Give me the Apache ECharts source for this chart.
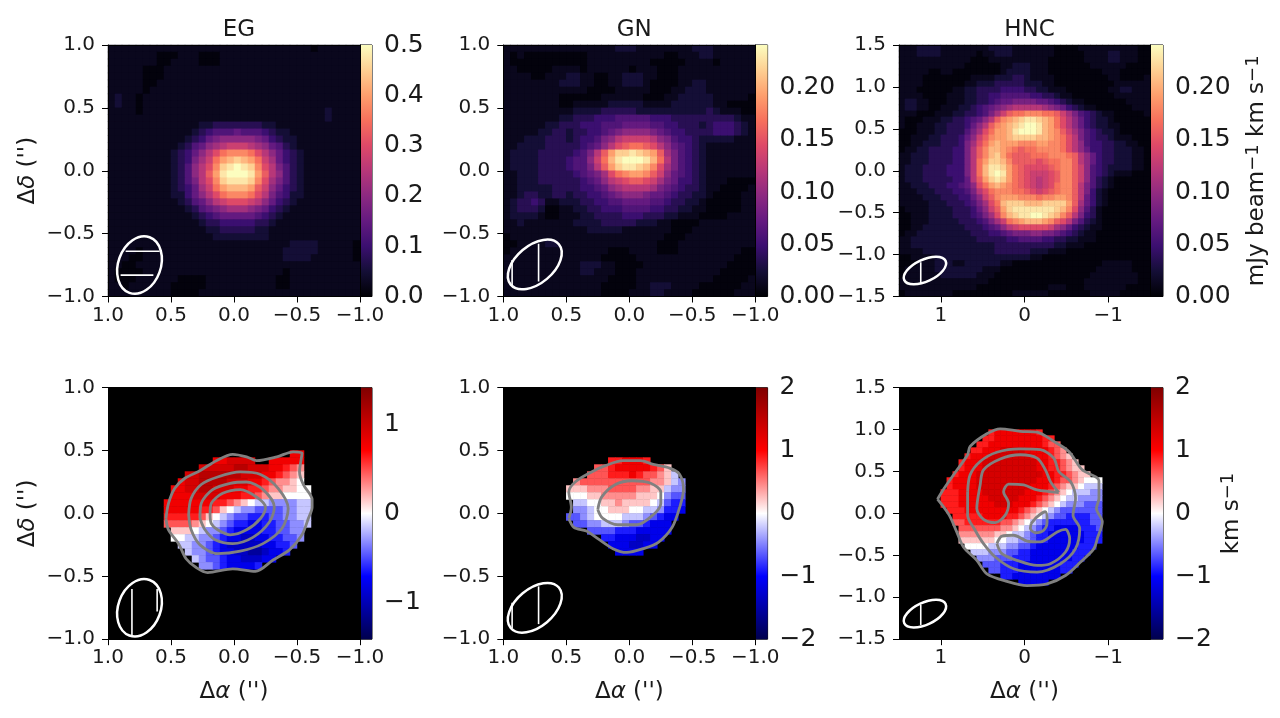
<!DOCTYPE html>
<html>
<head>
<meta charset="utf-8">
<script src="https://cdn.jsdelivr.net/npm/echarts@6/dist/echarts.min.js"></script>
<style>html,body{margin:0;background:#fff}#chart{width:1280px;height:718px}</style>
</head>
<body>
<div id="chart"></div>
<script>
const titles = ['EG', 'GN', 'HNC'];
const magma = ['#000004','#140e36','#3b0f70','#641a80','#8c2981','#b73779','#de4968','#f7705c','#fe9f6d','#fecf92','#fcfdbf'];
const seismic = ['#00004d','#0000ff','#ffffff','#ff0000','#800000'];

// moment maps, one char per cell, 0-9a-k = 0..20 twentieths of the colour range
const egMap = [
'111111111111111111111111111110111111',
'111111100011100011111111111111111111',
'111111100111100011111111111111111111',
'111110001111111111111111111111111111',
'111110001111111111111111111111111111',
'111110011111111111111111111111111111',
'111110111111111111111111111111111111',
'121101111111111111111111111111111111',
'121101111111111111111111111111111111',
'111101111111111111111111111111121111',
'111111111111111111111111111111121111',
'111111111111122333333322111111111111',
'111111111111234555655543221111111111',
'111111111112346788888764322111111111',
'1111111111235689abbba986532111111111',
'11111111123468acefffeca8643211111111',
'11111111123479beghihgeb9643211111111',
'1111111112358acfijkjifca753211111111',
'1111111112358adgjkkkjgda853211111111',
'1111111112357acfijjjifc9753211111111',
'11111111123469beghhhgdb8643211111111',
'11111111122468acefffeca7542211111111',
'111111111123568abcccba86432111111111',
'111111111112356789998764321111111111',
'111111111111234566666543211111111111',
'111111111111123344444332111111111111',
'111111111111112233333221111111111111',
'111111111111111222222221111111111111',
'111111111111111111111111112222111110',
'111101111111111111111111122222111110',
'111001111111111111111111122221111110',
'110011111111111111111111111111111111',
'100001111111111111111111101111111111',
'100011111100001111111111001111111111',
'110111111000001111111111001111111111',
'111111111000011111111111111111111111'];
const gnMap = [
'111111111111111122211111111222111111',
'101000000000111111111110011122111111',
'100000000000111111111000001111011111',
'110000011110111111011100011111111111',
'111100111221100112221100011111111111',
'111111112221100112221000011221111111',
'111111111111000011111000112221111111',
'111111110000001111110001122222111110',
'111111110011111222221111222222110000',
'111111111122223333322222222223211100',
'111111112233344455555444333333333211',
'111111223334445556666554433323444321',
'111112233233445678888765443333444321',
'1112223332344578abbbba87544322222111',
'112222333334568acdeedca8654321111111',
'1222233333457adgiijihgd9754321111111',
'1222233334558behjkkkjhea754321111111',
'1222233334557adgijjihfc9754321111111',
'112223333345679cefggfdb8654321111111',
'112223333334568abcddcb97644321110000',
'11222223333445689aaaa976543321100001',
'112332233233445678887665433221000011',
'123343112223344556666554332210000011',
'123332001122334445555443322110000011',
'122221001112233334443332211100001111',
'112111111122223333322211000011111111',
'111111111111222221111111000111111111',
'011111111111111111111110001111111111',
'001111221111111111111100011111111111',
'011111111111111000111100011111111100',
'111111111111110000011111111111111000',
'111111111112221100001111111111110000',
'111111111112211100011111111111100000',
'111111111111111000011111111111000001',
'111111111111110000011222111100000011',
'111111111111110000111221111000000111'];
const hncMap = [
'111222211111111222211111110000111111111100',
'111222211111101122211111110000011112211100',
'111111111111000111111111100000011112211100',
'111111111110000001122211100000001111110000',
'111110011000000001222211100000000011100000',
'111100000000111122233211110000000001100001',
'111100000001122233333222110000000000111111',
'111000000112233334444332211100000001122111',
'111100001112233445555544332110000000111111',
'122110001112233456677776654321100000001111',
'1221100111223456789aaaaa987643211000000111',
'11100011122334579bdeefffeedb975432110000011'.slice(0,42),
'100011122334568adfghijjihgeca8643221000000',
'10011122333468adfghijkkjhgeca8643221100000',
'00011122333579cegghjkkkjhgfdb9754322100000',
'0011122333468bdfgghiiiihhgfeca754332111000',
'0011222333479ceghgggfffggffeca854433221100',
'011223333447adfhhgfedeeffffeca864433222110',
'112223333447adfhigedddeeefffeda86433222110',
'112223333447aegiihfddddcdeeffda86433222110',
'122233334447aehjjigedccccdeffdb85432222110',
'122233334447aehjkjgedcbbbcdffdb85432111000',
'122233333446adgijigedcbabcdffdb85321000000',
'1122233344568ceghgfedcbabceffda75321000000',
'1112223334457acefffeedcbcdeffda74210000000',
'11112223334468bdfgggfffeffggfda64210000000',
'111112223334579cehiiihhhiiiigd964210000000',
'011112222333468bdgijjjjjjjihfc853100000000',
'0011122223334579cfhijjkkjihfda743100000000',
'00111222223334579befghhhgfdca7532100000000',
'00112222222333456 8abcccccb9864321100000000'.replace(' ','').slice(0,42),
'011222222222333445677788776543211000000000',
'112222222222233333445555443322111000000000',
'112222222222222233333333332211100000000000',
'111122222222222233333322211100000000000000',
'001111222222222222222211000000000000000000',
'000111222112222221100000000000000011111000',
'011111222222221110000000000000000111111000',
'011111122222211100000000000000001111111100',
'111111111111111000000000000000011111111100',
'111111111111100000000000011100011111110000',
'011111111000000000011111100000001111100000'];

// velocity maps: [row, first column, levels]. 0-9 = 0..+9 ninths of vmax, a-i = -1..-9 ninths, '.' = masked
const egVel = [
[9,26,'55'],[10,15,'556666..55555'],[11,13,'666667766655432'],[12,11,'66777777666554321'],
[13,10,'566777766655432210'],[14,9,'55667766655443221100'],[15,9,'55566665554432110000'],
[16,8,'5555555443210aabbbbaa'],[17,8,'5555544310abbccccbbaa'],[18,8,'44444310abccdddccbbaa'],
[19,8,'3333210abcddeeddccbba'],[20,9,'1110abbcdeeeeddccbb'],[21,9,'00aabbcdeeffeeddccb'],
[22,10,'aabbcdefffffeeddc'],[23,11,'abbcdeeffggfeed'],[24,12,'abccdeefffee'],[25,13,'bbcdeeeed']];
const gnVel = [
[10,15,'445554'],[11,13,'33455555431'],[12,12,'333444543321a'],[13,10,'23333333333221ab'],
[14,9,'11122233332211abb'],[15,9,'00011222221110bcc'],[16,10,'aa0011211110acdd'],[17,10,'bba0011100aabdde'],
[18,9,'ccba0000aaabcdee'],[19,10,'ccbbaaabccdeee'],[20,12,'ccccdddeeeee'],[21,14,'ddeeeffee'],
[22,15,'eeeffee'],[23,16,'eeee']];
const hncVel = [
[7,15,'455555554'],[8,14,'445555555544'],[9,13,'44555555555433'],
[10,12,'4455566665555432'],[11,11,'455566666665554321'],[12,10,'45556666666665544321'],
[13,10,'455566666666655443211'],[14,9,'45556666666666655443211'],[15,8,'45555666666666655543321000'],
[16,8,'45555666666666555432110aaa'],[17,7,'4445555666666655543210aaabb'],[18,7,'444555556666655543210aabbbb'],
[19,7,'44455555566655543210abbbccc'],[20,8,'44455555555543210abccccccc'],[21,9,'444445555443210abccddddcc'],
[22,9,'3344444433210abcdddddddcc'],[23,10,'33333332210abcddeeeedddc'],[24,10,'222222110aabcddeeeeeeddd'],
[25,10,'11111100aabbcddeeeeeeddd'],[26,11,'0000aaabbccdeeeeeeeddd'],[27,12,'aaabbbccddeeeeeeeddd'],
[28,13,'bbbcccdddeeeeeeedd'],[29,14,'cccdddeeeeeeeddd'],[30,15,'ccdddeeeeeeedd'],[31,17,'ddeeeeeeee'],[32,20,'eeeee']];

// contours in arcsec
const egContours = [
[[0.54,-0.04],[0.52,0.08],[0.47,0.20],[0.39,0.28],[0.27,0.34],[0.14,0.42],[0.01,0.47],[-0.10,0.45],[-0.18,0.42],[-0.34,0.45],[-0.47,0.49],[-0.54,0.48],[-0.52,0.33],[-0.55,0.23],[-0.62,0.11],[-0.62,0.05],[-0.59,-0.04],[-0.54,-0.17],[-0.44,-0.29],[-0.31,-0.37],[-0.17,-0.46],[0.01,-0.44],[0.21,-0.47],[0.30,-0.43],[0.38,-0.36],[0.44,-0.24],[0.52,-0.13],[0.54,-0.04]],
[[0.36,-0.01],[0.34,0.12],[0.26,0.23],[0.13,0.29],[-0.05,0.33],[-0.21,0.31],[-0.35,0.20],[-0.43,0.04],[-0.38,-0.12],[-0.23,-0.24],[-0.05,-0.30],[0.13,-0.32],[0.27,-0.25],[0.34,-0.13],[0.36,-0.01]],
[[0.27,-0.04],[0.26,0.08],[0.17,0.19],[0.03,0.24],[-0.10,0.25],[-0.23,0.19],[-0.32,0.05],[-0.28,-0.07],[-0.15,-0.19],[0.01,-0.24],[0.15,-0.21],[0.23,-0.13],[0.27,-0.04]],
[[0.19,-0.01],[0.18,0.08],[0.09,0.16],[-0.05,0.19],[-0.18,0.13],[-0.25,0.05],[-0.21,-0.04],[-0.10,-0.13],[0.03,-0.17],[0.13,-0.13],[0.18,-0.08],[0.19,-0.01]]];
const gnContours = [
[[0.48,-0.04],[0.46,0.05],[0.48,0.17],[0.43,0.25],[0.30,0.33],[0.19,0.38],[0.05,0.42],[-0.09,0.42],[-0.19,0.39],[-0.32,0.36],[-0.40,0.31],[-0.43,0.19],[-0.40,0.05],[-0.34,-0.11],[-0.23,-0.23],[-0.11,-0.28],[0.02,-0.31],[0.13,-0.28],[0.25,-0.20],[0.34,-0.14],[0.44,-0.11],[0.48,-0.04]],
[[0.25,0.03],[0.22,0.13],[0.11,0.23],[-0.02,0.26],[-0.17,0.24],[-0.25,0.17],[-0.25,0.08],[-0.19,-0.01],[-0.06,-0.09],[0.09,-0.09],[0.21,-0.04],[0.25,0.03]]];
const hncContours = [
[[1.04,0.17],[0.96,0.30],[0.82,0.50],[0.68,0.70],[0.65,0.80],[0.45,0.95],[0.29,1.01],[0.05,0.98],[-0.15,0.97],[-0.35,0.86],[-0.53,0.74],[-0.69,0.52],[-0.89,0.39],[-0.89,0.18],[-0.86,0.06],[-0.93,-0.10],[-0.87,-0.30],[-0.83,-0.42],[-0.67,-0.58],[-0.49,-0.74],[-0.27,-0.84],[-0.03,-0.86],[0.21,-0.81],[0.45,-0.72],[0.57,-0.56],[0.73,-0.40],[0.81,-0.22],[0.90,-0.02],[1.04,0.17]],
[[0.68,0.26],[0.65,0.46],[0.53,0.62],[0.33,0.73],[0.05,0.77],[-0.19,0.76],[-0.35,0.66],[-0.41,0.50],[-0.55,0.38],[-0.61,0.18],[-0.58,-0.02],[-0.66,-0.18],[-0.61,-0.42],[-0.43,-0.60],[-0.15,-0.70],[0.13,-0.66],[0.35,-0.52],[0.49,-0.36],[0.59,-0.20],[0.68,-0.02],[0.68,0.26]],
[[-0.41,0.25],[-0.31,0.38],[-0.25,0.52],[-0.15,0.66],[0.05,0.70],[0.29,0.65],[0.49,0.52],[0.53,0.34],[0.57,0.06],[0.49,-0.07],[0.35,-0.11],[0.23,-0.02],[0.19,0.12],[0.25,0.26],[0.19,0.35],[0.01,0.34],[-0.15,0.28],[-0.41,0.25]],
[[-0.08,-0.12],[-0.15,-0.04],[-0.25,0.02],[-0.27,-0.10],[-0.23,-0.20],[-0.13,-0.23],[-0.07,-0.18],[-0.08,-0.12]],
[[0.33,-0.36],[0.27,-0.27],[0.13,-0.26],[-0.03,-0.33],[-0.19,-0.34],[-0.39,-0.22],[-0.49,-0.19],[-0.54,-0.30],[-0.49,-0.46],[-0.31,-0.60],[-0.15,-0.62],[0.09,-0.56],[0.27,-0.48],[0.33,-0.36]]];

// beams: cx, cy, major radius, minor radius, tilt in degrees clockwise from up
const beams = [[0.75,-0.75,0.235,0.169,20],[0.75,-0.745,0.25,0.15,50],[1.19,-1.19,0.272,0.131,65],
               [0.75,-0.75,0.235,0.169,20],[0.75,-0.75,0.25,0.15,50],[1.19,-1.195,0.272,0.131,65]];
const beamLines = [
[[[0.86,-0.64],[0.59,-0.64]],[[0.90,-0.83],[0.64,-0.83]]],
[[[0.72,-0.58],[0.72,-0.88]],[[0.93,-0.71],[0.93,-0.91]]],
[[[1.24,-1.09],[1.24,-1.34]]],
[[[0.81,-0.60],[0.81,-0.97]],[[0.61,-0.60],[0.61,-0.78]]],
[[[0.72,-0.58],[0.72,-0.88]],[[0.93,-0.71],[0.93,-0.91]]],
[[[1.24,-1.09],[1.24,-1.33]]]];

const xTicks = [[-1,-0.5,0,0.5,1],[-1,-0.5,0,0.5,1],[-1,0,1]];
const yTicks = [[-1,-0.5,0,0.5,1],[-1,-0.5,0,0.5,1],[-1.5,-1,-0.5,0,0.5,1,1.5]];
const lims = [1, 1, 1.5];
const topMax = [0.5, 0.241, 0.241];
const topBarTicks = [[0,0.1,0.2,0.3,0.4,0.5],[0,0.05,0.1,0.15,0.2],[0,0.05,0.1,0.15,0.2]];
const botMax = [1.41, 2, 2];
const botBarTicks = [[-1,0,1],[-2,-1,0,1,2],[-2,-1,0,1,2]];

const FONT = '"DejaVu Sans"';
const INK = '#1a1a1a';
const colLeft = [108, 503.3, 899];
const rowTop = [45, 387.7];
const imgW = [252, 252, 251], imgH = 251.5, barW = [12, 12.3, 13];

const fmt = (v, d) => v.toFixed(d).replace('-', '\u2212');
const nameStyle = {
    fontFamily: FONT, fontSize: 23, color: INK,
    rich: {
        i: { fontFamily: FONT, fontSize: 23, fontStyle: 'italic', color: INK },
        sup: { fontFamily: FONT, fontSize: 18, color: INK, verticalAlign: 'top', lineHeight: 26 }
    }
};

function mapCells(rows, vmax) {
    const out = [];
    rows.forEach((r, y) => {
        for (let x = 0; x < r.length; x++) out.push([x, y, Math.max(parseInt(r[x], 36), 0.3) / 20 * vmax]);
    });
    return out;
}
function velCells(rows, vmax) {
    const out = [];
    rows.forEach(([y, start, s]) => {
        for (let i = 0; i < s.length; i++) {
            if (s[i] === '.') continue;
            const n = parseInt(s[i], 36);
            out.push([start + i, y, (n > 9 ? 9 - n : n) / 9 * vmax]);
        }
    });
    return out;
}

const option = {
    animation: false, backgroundColor: '#fff',
    title: titles.map((t, c) => ({
        text: t, left: colLeft[c] + imgW[c] / 2, top: 14, textAlign: 'center',
        textStyle: { fontFamily: FONT, fontSize: 23, fontWeight: 'normal', color: INK }
    })),
    grid: [], xAxis: [], yAxis: [], series: [], visualMap: []
};

const cellData = [mapCells(egMap, topMax[0]), mapCells(gnMap, topMax[1]), mapCells(hncMap, topMax[2]),
                  velCells(egVel, botMax[0]), velCells(gnVel, botMax[1]), velCells(hncVel, botMax[2])];
const nCells = [36, 36, 42];
const contours = [[], [], [], egContours, gnContours, hncContours];

for (let p = 0; p < 6; p++) {
    const row = p < 3 ? 0 : 1, c = p % 3, lim = lims[c];
    const g = option.grid.length;
    const xv = option.xAxis.length, yv = option.yAxis.length;
    option.grid.push({ left: colLeft[c], top: rowTop[row], width: imgW[c], height: imgH, show: true, backgroundColor: row ? '#000' : '#000004', borderWidth: 0 });

    // visible value axes, carry the ticks
    option.xAxis.push({
        type: 'value', gridIndex: g, min: -lim, max: lim, inverse: true, position: 'bottom', z: 5,
        splitLine: { show: false },
        axisLine: { onZero: false, lineStyle: { color: '#000', width: 1 } },
        axisTick: { length: 6, customValues: xTicks[c], lineStyle: { color: '#000', width: 1 } },
        axisLabel: { customValues: xTicks[c], fontFamily: FONT, fontSize: 20, color: INK, margin: 9, formatter: v => c == 2 ? fmt(v, 0) : fmt(v, 1) },
        name: row ? "\u0394{i|\u03b1} ('')" : '', nameLocation: 'middle', nameGap: 41,
        nameTextStyle: nameStyle
    });
    option.yAxis.push({
        type: 'value', gridIndex: g, min: -lim, max: lim, position: 'left', z: 5,
        splitLine: { show: false },
        axisLine: { onZero: false, lineStyle: { color: '#000', width: 1 } },
        axisTick: { length: 6, customValues: yTicks[c], lineStyle: { color: '#000', width: 1 } },
        axisLabel: { customValues: yTicks[c], fontFamily: FONT, fontSize: 20, color: INK, margin: 13, formatter: v => fmt(v, 1) },
        name: c == 0 ? "\u0394{i|\u03b4} ('')" : '', nameLocation: 'middle', nameGap: 68, nameRotate: 90,
        nameTextStyle: nameStyle
    });
    // hidden category axes for the cells, their lines close the frame
    const cats = Array.from({ length: nCells[c] }, (_, i) => i);
    option.xAxis.push({ type: 'category', gridIndex: g, data: cats, position: 'top', z: 5,
        axisTick: { show: false }, axisLabel: { show: false }, axisLine: { onZero: false, lineStyle: { color: '#000' } } });
    option.yAxis.push({ type: 'category', gridIndex: g, data: cats, inverse: true, position: 'right', z: 5,
        axisTick: { show: false }, axisLabel: { show: false }, axisLine: { onZero: false, lineStyle: { color: '#000' } } });

    const sIdx = option.series.length;
    option.series.push({ type: 'heatmap', xAxisIndex: xv + 1, yAxisIndex: yv + 1, data: cellData[p], progressive: 0, z: 2 });
    const vmax = row ? botMax[c] : topMax[c];
    option.visualMap.push({ show: false, type: 'continuous', seriesIndex: sIdx, min: row ? -vmax : 0, max: vmax, inRange: { color: row ? seismic : magma } });

    contours[p].forEach(line => option.series.push({
        type: 'line', xAxisIndex: xv, yAxisIndex: yv, data: line, smooth: 0.3, symbol: 'none', z: 3,
        lineStyle: { color: '#808080', width: 2.8 }
    }));
    option.series.push({
        type: 'custom', xAxisIndex: xv, yAxisIndex: yv, data: [beams[p]], z: 4, encode: { x: 0, y: 1 },
        renderItem: (params, api) => {
            const o = api.coord([api.value(0), api.value(1)]);
            const s = Math.abs(api.coord([0, 0])[1] - api.coord([0, 1])[1]);
            return { type: 'ellipse', x: o[0], y: o[1], rotation: -api.value(4) * Math.PI / 180,
                shape: { cx: 0, cy: 0, rx: api.value(3) * s, ry: api.value(2) * s },
                style: { fill: 'none', stroke: '#fff', lineWidth: 2.5 } };
        }
    });
    beamLines[p].forEach(line => option.series.push({
        type: 'line', xAxisIndex: xv, yAxisIndex: yv, data: line, symbol: 'none', z: 4,
        lineStyle: { color: '#fff', width: 1.6 }
    }));

    // colour bar sits right against the image
    const gb = option.grid.length, xb = option.xAxis.length, yb = option.yAxis.length;
    const low = row ? -vmax : 0;
    const cmap = row ? seismic : magma;
    const barTicks = row ? botBarTicks[c] : topBarTicks[c];
    const dec = row ? 0 : (c == 0 ? 1 : 2);
    option.grid.push({ left: colLeft[c] + imgW[c], top: rowTop[row], width: barW[c], height: imgH, show: true, borderColor: '#000', borderWidth: 1 });
    option.xAxis.push({ type: 'value', gridIndex: gb, min: 0, max: 1, show: false });
    option.yAxis.push({
        type: 'value', gridIndex: gb, min: low, max: vmax, position: 'right', z: 5,
        splitLine: { show: false }, axisLine: { show: false }, axisTick: { show: false },
        axisLabel: { customValues: barTicks, fontFamily: FONT, fontSize: 25, color: INK, margin: 12, formatter: v => fmt(v, dec) },
        name: c == 2 ? (row ? 'km s{sup|\u22121}' : 'mJy beam{sup|\u22121} km s{sup|\u22121}') : '',
        nameLocation: 'middle', nameRotate: 90, nameGap: row ? 56 : 81,
        nameTextStyle: nameStyle
    });
    option.series.push({
        type: 'custom', xAxisIndex: xb, yAxisIndex: yb, data: [[0, low, 1, vmax]], z: 2, encode: { x: [0, 2], y: [1, 3] },
        renderItem: (params, api) => {
            const a = api.coord([api.value(0), api.value(3)]), b = api.coord([api.value(2), api.value(1)]);
            return { type: 'rect', shape: { x: a[0], y: a[1], width: b[0] - a[0], height: b[1] - a[1] },
                style: { fill: new echarts.graphic.LinearGradient(0, 1, 0, 0,
                    cmap.map((color, i) => ({ offset: i / (cmap.length - 1), color }))) } };
        }
    });
}

const chart = echarts.init(document.getElementById('chart'));
chart.setOption(option);
</script>
</body>
</html>
